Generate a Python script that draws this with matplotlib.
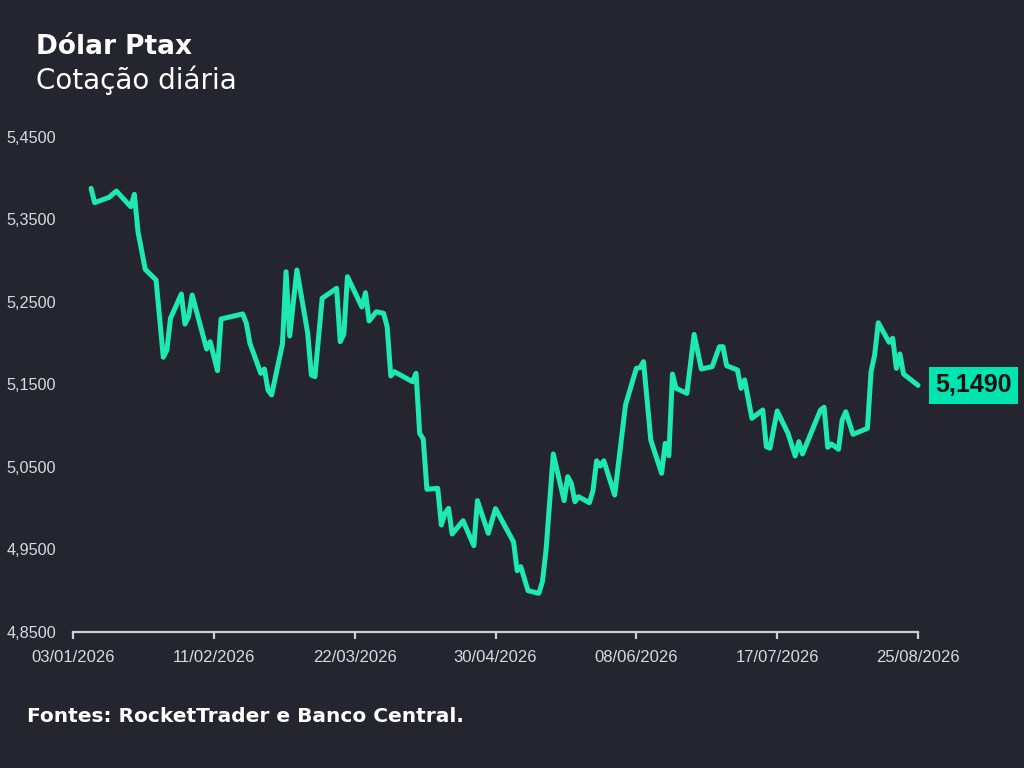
"""Dólar Ptax - cotação diária (line chart on dark background)."""

import matplotlib

matplotlib.use("Agg")

import matplotlib.dates as mdates
import matplotlib.pyplot as plt
import pandas as pd

BG = "#252530"
GREEN = "#1de9b0"
AXIS_GREY = "#cfcfd4"

# vertices
dates = [
    "2026-01-08", "2026-01-09", "2026-01-13", "2026-01-15", "2026-01-19",
    "2026-01-20", "2026-01-21", "2026-01-23", "2026-01-26", "2026-01-28",
    "2026-01-29", "2026-01-30", "2026-02-02", "2026-02-03", "2026-02-04",
    "2026-02-05", "2026-02-09", "2026-02-10", "2026-02-12", "2026-02-13",
    "2026-02-19", "2026-02-20", "2026-02-21", "2026-02-24", "2026-02-25",
    "2026-02-26", "2026-02-27", "2026-03-02", "2026-03-03", "2026-03-04",
    "2026-03-06", "2026-03-09", "2026-03-10", "2026-03-11", "2026-03-13",
    "2026-03-17", "2026-03-18", "2026-03-19", "2026-03-20", "2026-03-24",
    "2026-03-25", "2026-03-26", "2026-03-28", "2026-03-30", "2026-03-31",
    "2026-04-01", "2026-04-02", "2026-04-07", "2026-04-08", "2026-04-09",
    "2026-04-10", "2026-04-11", "2026-04-14", "2026-04-15", "2026-04-16",
    "2026-04-17", "2026-04-18", "2026-04-21", "2026-04-24", "2026-04-25",
    "2026-04-28", "2026-04-30", "2026-05-05", "2026-05-06", "2026-05-07",
    "2026-05-09", "2026-05-12", "2026-05-13", "2026-05-14", "2026-05-16",
    "2026-05-19", "2026-05-20", "2026-05-21", "2026-05-22", "2026-05-23",
    "2026-05-26", "2026-05-27", "2026-05-28", "2026-05-29", "2026-05-30",
    "2026-06-02", "2026-06-05", "2026-06-08", "2026-06-09", "2026-06-10",
    "2026-06-12", "2026-06-15", "2026-06-16", "2026-06-17", "2026-06-18",
    "2026-06-19", "2026-06-22", "2026-06-24", "2026-06-26", "2026-06-29",
    "2026-07-01", "2026-07-02", "2026-07-03", "2026-07-06", "2026-07-07",
    "2026-07-08", "2026-07-10", "2026-07-13", "2026-07-14", "2026-07-15",
    "2026-07-17", "2026-07-20", "2026-07-22", "2026-07-23", "2026-07-24",
    "2026-07-29", "2026-07-30", "2026-07-31", "2026-08-01", "2026-08-03",
    "2026-08-04", "2026-08-05", "2026-08-07", "2026-08-11", "2026-08-12",
    "2026-08-13", "2026-08-14", "2026-08-17", "2026-08-18", "2026-08-19",
    "2026-08-20", "2026-08-21", "2026-08-25",
]

ptax = [
    5.3878, 5.3704, 5.3769, 5.3845, 5.3655,
    5.3805, 5.3352, 5.2896, 5.2767, 5.1830,
    5.1918, 5.2302, 5.2597, 5.2233, 5.2322,
    5.2585, 5.1930, 5.2019, 5.1667, 5.2294,
    5.2355, 5.2242, 5.1999, 5.1636, 5.1688,
    5.1433, 5.1373, 5.1991, 5.2867, 5.2088,
    5.2888, 5.2121, 5.1615, 5.1595, 5.2545,
    5.2666, 5.2019, 5.2108, 5.2807, 5.2439,
    5.2613, 5.2270, 5.2382, 5.2363, 5.2201,
    5.1603, 5.1655, 5.1534, 5.1636, 5.0908,
    5.0839, 5.0230, 5.0242, 4.9797, 4.9939,
    4.9999, 4.9688, 4.9849, 4.9546, 5.0092,
    4.9696, 4.9995, 4.9591, 4.9243, 4.9292,
    4.9001, 4.8969, 4.9110, 4.9494, 5.0658,
    5.0092, 5.0382, 5.0302, 5.0079, 5.0140,
    5.0067, 5.0213, 5.0576, 5.0512, 5.0576,
    5.0161, 5.1251, 5.1696, 5.1704, 5.1776,
    5.0827, 5.0424, 5.0787, 5.0637, 5.1627,
    5.1454, 5.1393, 5.2108, 5.1688, 5.1716,
    5.1958, 5.1958, 5.1728, 5.1676, 5.1454,
    5.1555, 5.1090, 5.1191, 5.0746, 5.0727,
    5.1179, 5.0908, 5.0633, 5.0807, 5.0658,
    5.1191, 5.1224, 5.0739, 5.0779, 5.0715,
    5.1070, 5.1170, 5.0896, 5.0969, 5.1655,
    5.1858, 5.2249, 5.2012, 5.2060, 5.1696,
    5.1870, 5.1627, 5.1490,
]

x_ticks = ["2026-01-03", "2026-02-11", "2026-03-22", "2026-04-30",
           "2026-06-08", "2026-07-17", "2026-08-25"]
y_ticks = [4.85, 4.95, 5.05, 5.15, 5.25, 5.35, 5.45]

title = "Dólar Ptax"
subtitle = "Cotação diária"
source = "Fontes: RocketTrader e Banco Central."


def br_number(v, _pos=None):
    return f"{v:.4f}".replace(".", ",")


x = pd.to_datetime(dates)
xt = pd.to_datetime(x_ticks)

fig = plt.figure(figsize=(10.24, 7.68), dpi=100, facecolor=BG)
ax = fig.add_axes([73 / 1024, 136 / 768, 845 / 1024, 495 / 768])
ax.set_facecolor(BG)

ax.plot(x, ptax, color=GREEN, lw=3.6, solid_joinstyle="round",
        solid_capstyle="round", clip_on=False)

ax.set_xlim(xt[0], xt[-1])
ax.set_ylim(y_ticks[0], y_ticks[-1])

ax.set_xticks(xt)
ax.xaxis.set_major_formatter(mdates.DateFormatter("%d/%m/%Y"))
ax.set_yticks(y_ticks)
ax.yaxis.set_major_formatter(plt.FuncFormatter(br_number))

for side in ("top", "right", "left"):
    ax.spines[side].set_visible(False)
ax.spines["bottom"].set_color(AXIS_GREY)
ax.spines["bottom"].set_linewidth(1.6)

ax.tick_params(axis="x", colors=AXIS_GREY, length=5, width=1.6,
               labelsize=12, pad=8, labelcolor="#d9d9de")
ax.tick_params(axis="y", length=0, labelsize=11.7, pad=12, labelcolor="#d9d9de")
for lbl in ax.get_xticklabels() + ax.get_yticklabels():
    lbl.set_family("Liberation Sans")

# last value tag
ax.annotate(br_number(ptax[-1]), xy=(x[-1], ptax[-1]), xytext=(12.5, 0),
            textcoords="offset points", ha="left", va="center",
            fontsize=18, fontweight="bold", family="Liberation Sans",
            color="#101014", annotation_clip=False,
            bbox=dict(boxstyle="square,pad=0.25", fc="#00e5b0", ec="none"))

fig.text(36 / 1024, 1 - 47 / 768, title, fontsize=19, fontweight="bold",
         family="DejaVu Sans", color="white", va="center", ha="left")
fig.text(36 / 1024, 1 - 80 / 768, subtitle, fontsize=20,
         family="DejaVu Sans", color="white", va="center", ha="left")
fig.text(27 / 1024, 1 - 716 / 768, source, fontsize=14.5, fontweight="bold",
         family="DejaVu Sans", color="white", va="center", ha="left")

fig.savefig("out.png", dpi=100, facecolor=BG)
plt.close(fig)
